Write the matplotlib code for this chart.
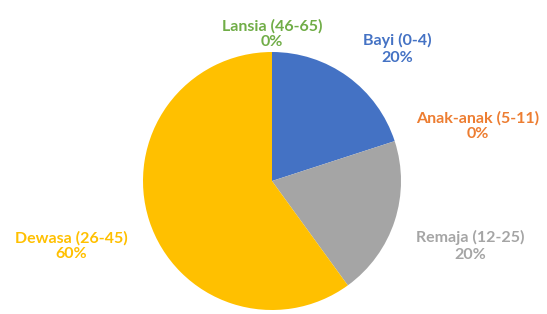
import matplotlib.pyplot as plt

# data
categories = ["Bayi (0-4)", "Anak-anak (5-11)", "Remaja (12-25)", "Dewasa (26-45)", "Lansia (46-65)"]
values = [1, 0, 1, 3, 0]
colors = ["#4472C4", "#ED7D31", "#A5A5A5", "#FFC000", "#70AD47"]

# label centres in pixels (x, y from top)
label_pos = [(397, 49), (478, 126), (470, 246), (71, 246), (272, 34)]

W, H = 547, 314
fig = plt.figure(figsize=(W / 100, H / 100), dpi=100)
ax = fig.add_axes([0, 0, 1, 1])

ax.pie(values, colors=colors, startangle=90, counterclock=False,
       center=(272, H - 181), radius=129, frame=True,
       wedgeprops=dict(linewidth=0))
ax.set_xlim(0, W)
ax.set_ylim(0, H)
ax.set_aspect("equal")
ax.axis("off")

total = sum(values)
for cat, v, c, (px, py) in zip(categories, values, colors, label_pos):
    txt = "%s\n%.0f%%" % (cat, v / total * 100)
    ax.text(px, H - py, txt, color=c, fontsize=11.5, fontweight="bold",
            family=["Lato", "DejaVu Sans"], ha="center", va="center",
            linespacing=1.2, zorder=5)

fig.savefig("out.png", dpi=100)
